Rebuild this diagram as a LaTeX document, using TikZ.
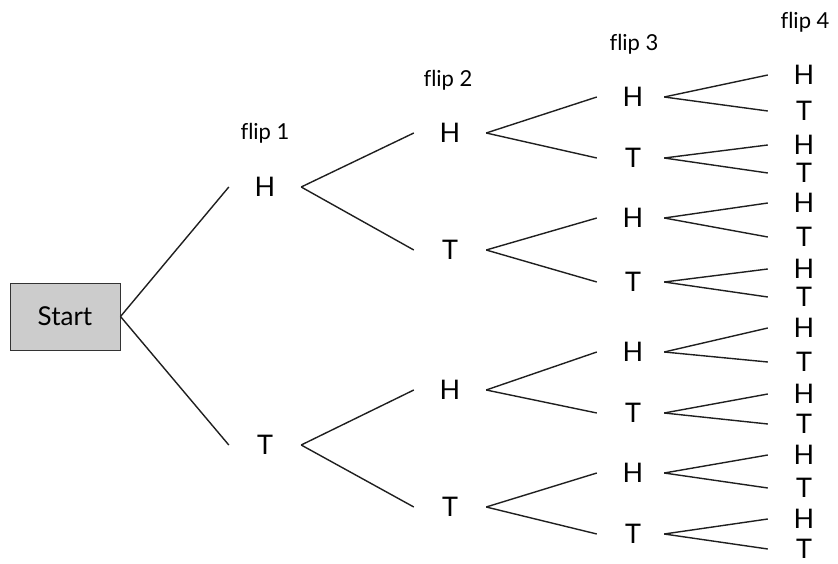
\documentclass[tikz,border=0pt]{standalone}
\usepackage{fontspec}
\setmainfont[Ligatures=NoCommon]{Lato}
\begin{document}
\begin{tikzpicture}[x=1pt,y=-1pt,
  lbl/.style={font=\fontsize{27}{30}\selectfont, inner sep=0pt, minimum width=72pt, text height=19.5pt, text depth=0pt},
  lblc/.style={lbl, minimum width=66pt},
  hdr/.style={font=\fontsize{22}{26}\selectfont, inner sep=0pt},
  startbox/.style={draw=black!80, fill=black!20, line width=1pt, minimum width=110pt, minimum height=67pt, inner sep=0pt, font=\fontsize{26}{30}\selectfont},
  edge/.style={line width=1.4pt, black!88}]
\useasboundingbox (0,0) rectangle (838,564);
\node[startbox] (s) at (65,316.5) {Start};
% headers
\node[hdr] (h1) at (265,133) {flip 1};
\node[hdr] (h2) at (448,80) {flip 2};
\node[hdr] (h3) at (634,44) {flip 3};
\node[hdr] (h4) at (805,22) {flip 4};
% flip 1
\foreach \n/\t/\y in {1/H/187, 2/T/445} \node[lbl] (a\n) at (265,\y) {\t};
% flip 2
\foreach \n/\t/\y in {1/H/133, 2/T/250, 3/H/390, 4/T/507} \node[lbl] (b\n) at (450,\y) {\t};
% flip 3
\foreach \n/\t/\y in {1/H/97, 2/T/158, 3/H/218, 4/T/282, 5/H/352, 6/T/413, 7/H/473, 8/T/534} \node[lbl] (c\n) at (633,\y) {\t};
% flip 4
\foreach \n/\t/\y in {1/H/75, 2/T/111, 3/H/145, 4/T/173, 5/H/203, 6/T/237, 7/H/269, 8/T/297, 9/H/328, 10/T/362, 11/H/394, 12/T/424, 13/H/455, 14/T/488, 15/H/519, 16/T/549} \node[lbl] (d\n) at (804,\y) {\t};
% edges
\foreach \i in {1,2} \draw[edge] (s.east) -- (a\i.west);
\foreach \i [evaluate=\i as \p using {int(ceil(\i/2))}] in {1,...,4} \draw[edge] (a\p.east) -- (b\i.west);
\foreach \i [evaluate=\i as \p using {int(ceil(\i/2))}] in {1,...,8} \draw[edge] (b\p.east) -- (c\i.west);
\foreach \i [evaluate=\i as \p using {int(ceil(\i/2))}] in {1,...,16} \draw[edge] ([xshift=-5pt]c\p.east) -- (d\i.west);
\end{tikzpicture}
\end{document}
